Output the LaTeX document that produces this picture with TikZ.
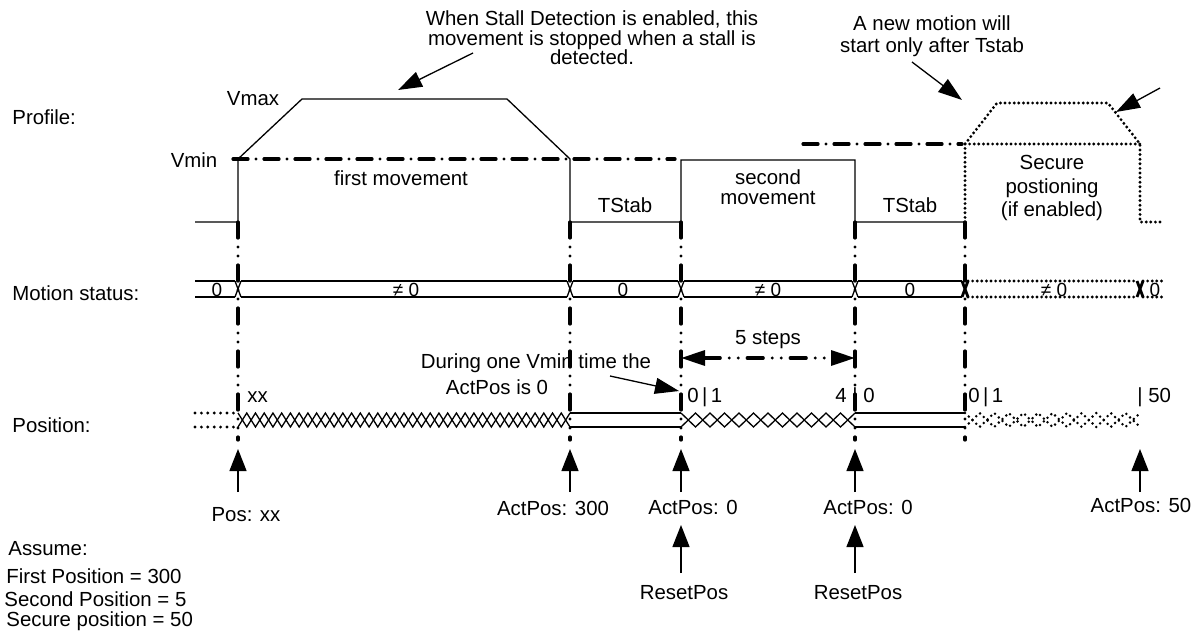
\documentclass[tikz,border=0pt]{standalone}
\usepackage{fontspec}
\setmainfont{Liberation Sans}
\usetikzlibrary{arrows.meta}

\begin{document}
\begin{tikzpicture}[
    x=0.5pt, y=-0.5pt,
    lbl/.style={font=\fontsize{10.2}{10.2}\selectfont, inner sep=0pt, align=center},
    sml/.style={font=\fontsize{9.5}{9.5}\selectfont, inner sep=0pt},
    sig/.style={line width=0.65pt},
    evt/.style={line width=1.6pt, line cap=round, dash pattern=on 8pt off 4.5pt on 0pt off 4.5pt on 0pt off 4.5pt},
    vlev/.style={line width=1.6pt, line cap=round, dash pattern=on 7.5pt off 4pt on 0pt off 4pt},
    secure/.style={line width=1.6pt, line cap=round, dash pattern=on 0pt off 2.3pt},
    dots/.style={line width=1.6pt, line cap=round, dash pattern=on 0pt off 3.2pt},
    up/.style={-{Triangle[length=11pt,width=8.5pt]}, line width=0.65pt},
    ann/.style={-{Triangle[length=12pt,width=8pt]}, line width=0.65pt}
]
\useasboundingbox (0,0) rectangle (1198,631);

% row titles
\node[lbl, anchor=west] (lprof) at (12,117) {Profile:};
\node[lbl, anchor=west] (lmot) at (12,293) {Motion status:};
\node[lbl, anchor=west] (lpos) at (12,425) {Position:};

% profile
\draw[sig] (195,222) -- (238,222) -- (238,159) -- (302,99) -- (507,99) -- (570,159) -- (570,222)
    -- (681,222) -- (681,160) -- (855,160) -- (855,222) -- (965,222);
\draw[vlev] (233,159) -- (675,159);
\draw[vlev] (803,144) -- (962,144);
\draw[secure] (965,222) -- (965,144) -- (997,103) -- (1108,103) -- (1140,144) -- (1140,222) -- (1162,222);
\draw[secure] (965,144) -- (1140,144);

\node[lbl] (tvmax) at (253,99) {Vmax};
\node[lbl] (tvmin) at (194,160) {Vmin};
\node[lbl] (tfirst) at (401,178) {first movement};
\node[lbl] (tstaba) at (625,205) {TStab};
\node[lbl, font=\fontsize{10.2}{10}\selectfont] (tsecond) at (768,187) {second\\movement};
\node[lbl] (tstabb) at (910,205) {TStab};
\node[lbl, font=\fontsize{10.2}{11.7}\selectfont] (tsecure) at (1052,188) {Secure\\postioning\\(if enabled)};

% notes
\node[lbl, font=\fontsize{10.2}{9.8}\selectfont] (tstall) at (592,38) {When Stall Detection is enabled, this\\movement is stopped when a stall is\\detected.};
\node[lbl, font=\fontsize{10.2}{11}\selectfont] (tnew) at (932,36) {A new motion will\\start only after Tstab};
\coordinate (cstallt) at (473,53);
\coordinate (cstallh) at (398,90);
\draw[ann] (cstallt) -- (cstallh);
\coordinate (cnewt) at (912,62);
\coordinate (cnewh) at (962,100);
\draw[ann] (cnewt) -- (cnewh);
\coordinate (csect) at (1160,88);
\coordinate (csech) at (1116,112);
\draw[ann] (csect) -- (csech);

% motion status
\foreach \a/\b in {195/235, 241/567, 573/678, 684/852, 858/962}
    \draw[sig] (\a,281) -- (\b,281) (\a,297) -- (\b,297);
\foreach \t in {238,570,681,855}
    \draw[sig] (\t-3,281) -- (\t+3,297) (\t-3,297) -- (\t+3,281);
\foreach \t in {965,1140}
    \draw[line width=1.4pt] (\t-3,281) -- (\t+3,297) (\t-3,297) -- (\t+3,281);
\draw[secure] (968,281) -- (1137,281) (968,297) -- (1137,297) (1143,281) -- (1165,281) (1143,297) -- (1165,297);

\node[sml] (mza) at (217,290) {0};
\node[sml] (mnza) at (406,290) {≠ 0};
\node[sml] (mzb) at (623,290) {0};
\node[sml] (mnzb) at (768,290) {≠ 0};
\node[sml] (mzc) at (910,290) {0};
\node[sml] (mnzc) at (1054,290) {≠ 0};
\node[sml] (mzd) at (1155,290) {0};

% event lines
\foreach \t in {238,570,681,855,965}
    \draw[evt] (\t,222) -- (\t,440);

% position
\draw[dots] (195,413) -- (236,413) (195,427) -- (236,427);
\draw[sig] (238,413) \foreach \k in {1,...,38}{ -- ({238+\k*332/38},{420-7*cos(180*\k)}) };
\draw[sig] (238,427) \foreach \k in {1,...,38}{ -- ({238+\k*332/38},{420+7*cos(180*\k)}) };
\draw[sig] (570,413) -- (681,413) (570,427) -- (681,427);
\draw[sig] (681,413) \foreach \k in {1,...,12}{ -- ({681+\k*174/12},{420-7*cos(180*\k)}) };
\draw[sig] (681,427) \foreach \k in {1,...,12}{ -- ({681+\k*174/12},{420+7*cos(180*\k)}) };
\draw[sig] (855,413) -- (965,413) (855,427) -- (965,427);
\draw[dots, line width=1.4pt, dash pattern=on 0pt off 2.6pt] (965,413) \foreach \k in {1,...,12}{ -- ({965+\k*175/12},{420-7*cos(180*\k)}) };
\draw[dots, line width=1.4pt, dash pattern=on 0pt off 2.6pt] (965,427) \foreach \k in {1,...,12}{ -- ({965+\k*175/12},{420+7*cos(180*\k)}) };

\node[lbl, anchor=west] (pxx) at (247,397) {xx};
\node[lbl, anchor=west] (pzoa) at (687,397) {0\,|\,1};
\node[lbl] (pfz) at (855,397) {4 | 0};
\node[lbl, anchor=west] (pzob) at (968,397) {0\,|\,1};
\node[lbl, anchor=west] (pfifty) at (1137,397) {| 50};

% 5 steps
\coordinate (csa) at (681,358);
\coordinate (csb) at (855,358);
\draw[evt, {Triangle[length=12pt,width=7.5pt]}-{Triangle[length=12pt,width=7.5pt]}] (csa) -- (csb);
\node[lbl] (tsteps) at (768,340) {5 steps};

\node[lbl] (tdura) at (536,363) {During one Vmin time the};
\node[lbl] (tdurb) at (497,387) {ActPos is 0};
\coordinate (cdurt) at (610,376);
\coordinate (cdurh) at (679,391);
\draw[ann] (cdurt) -- (cdurh);

% arrows below
\foreach \t/\n in {238/a,570/b,681/c,855/d,1140/e}{
    \coordinate (u\n t) at (\t,492);
    \coordinate (u\n h) at (\t,449);
    \draw[up] (u\n t) -- (u\n h);
}
\foreach \t/\n in {681/a,855/b}{
    \coordinate (r\n t) at (\t,573);
    \coordinate (r\n h) at (\t,525);
    \draw[up] (r\n t) -- (r\n h);
}

\node[lbl] (lposxx) at (246,515) {Pos: xx};
\node[lbl] (lact) at (553,508) {ActPos: 300};
\node[lbl] (lacta) at (693,507) {ActPos: 0};
\node[lbl] (lactb) at (868,507) {ActPos: 0};
\node[lbl] (lactc) at (1141,505) {ActPos: 50};
\node[lbl] (lrsta) at (684,593) {ResetPos};
\node[lbl] (lrstb) at (858,593) {ResetPos};

% assumptions
\node[lbl, anchor=west] (asm) at (8,549) {Assume:};
\node[lbl, anchor=west] (asma) at (6,576) {First Position = 300};
\node[lbl, anchor=west] (asmb) at (4,599) {Second Position = 5};
\node[lbl, anchor=west] (asmc) at (6,621) {Secure position = 50};
\end{tikzpicture}
\end{document}
